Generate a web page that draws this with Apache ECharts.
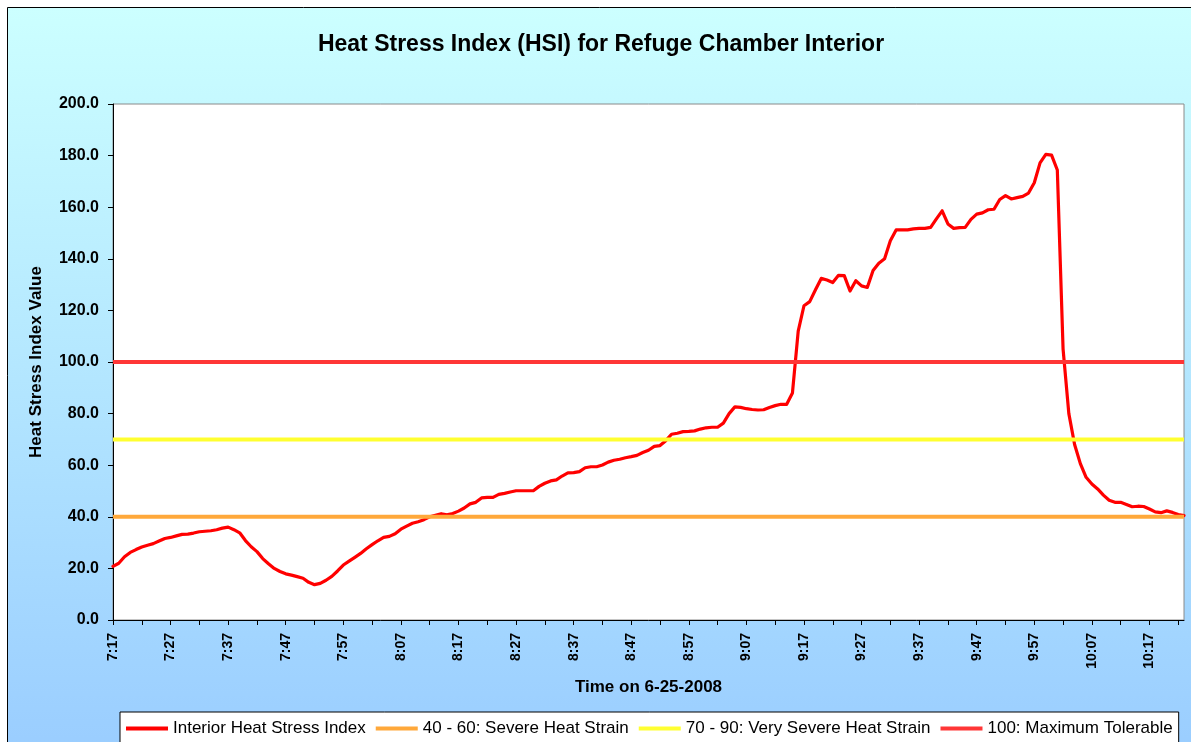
<!DOCTYPE html>
<html>
<head>
<meta charset="utf-8">
<script src="https://cdn.jsdelivr.net/npm/echarts@6/dist/echarts.min.js"></script>
<style>
html,body{margin:0;padding:0;background:#fff;}
#chart{width:1191px;height:742px;}
</style>
</head>
<body>
<div id="chart"></div>
<script>
// Time categories (one per minute)
const categories = [
"7:17","7:18","7:19","7:20","7:21","7:22","7:23","7:24","7:25","7:26","7:27","7:28","7:29","7:30","7:31","7:32","7:33","7:34","7:35","7:36","7:37","7:38","7:39","7:40","7:41","7:42","7:43","7:44","7:45","7:46","7:47","7:48","7:49","7:50","7:51","7:52","7:53","7:54","7:55","7:56","7:57","7:58","7:59",
"8:00","8:01","8:02","8:03","8:04","8:05","8:06","8:07","8:08","8:09","8:10","8:11","8:12","8:13","8:14","8:15","8:16","8:17","8:18","8:19","8:20","8:21","8:22","8:23","8:24","8:25","8:26","8:27","8:28","8:29","8:30","8:31","8:32","8:33","8:34","8:35","8:36","8:37","8:38","8:39","8:40","8:41","8:42","8:43","8:44","8:45","8:46","8:47","8:48","8:49","8:50","8:51","8:52","8:53","8:54","8:55","8:56","8:57","8:58","8:59",
"9:00","9:01","9:02","9:03","9:04","9:05","9:06","9:07","9:08","9:09","9:10","9:11","9:12","9:13","9:14","9:15","9:16","9:17","9:18","9:19","9:20","9:21","9:22","9:23","9:24","9:25","9:26","9:27","9:28","9:29","9:30","9:31","9:32","9:33","9:34","9:35","9:36","9:37","9:38","9:39","9:40","9:41","9:42","9:43","9:44","9:45","9:46","9:47","9:48","9:49","9:50","9:51","9:52","9:53","9:54","9:55","9:56","9:57","9:58","9:59",
"10:00","10:01","10:02","10:03","10:04","10:05","10:06","10:07","10:08","10:09","10:10","10:11","10:12","10:13","10:14","10:15","10:16","10:17","10:18","10:19","10:20","10:21","10:22","10:23"
];

// Interior Heat Stress Index
const hsiValues = [
20.8,22.0,24.5,26.2,27.3,28.3,29.0,29.6,30.6,31.6,
32.0,32.6,33.2,33.3,33.7,34.2,34.4,34.6,35.0,35.6,
36.0,35.0,33.8,30.8,28.4,26.5,23.8,21.8,20.0,18.8,
17.9,17.4,16.8,16.2,14.6,13.7,14.2,15.4,16.9,19.0,
21.3,22.8,24.3,25.8,27.6,29.2,30.7,32.0,32.4,33.4,
35.2,36.4,37.5,38.1,38.9,40.0,40.6,41.2,40.8,41.3,
42.2,43.4,45.0,45.6,47.3,47.5,47.5,48.7,49.1,49.6,
50.1,50.1,50.1,50.1,51.8,53.0,53.9,54.3,55.8,57.0,
57.1,57.5,59.0,59.4,59.4,60.1,61.2,61.9,62.3,62.9,
63.3,63.8,64.9,65.8,67.3,67.6,69.5,72.0,72.4,73.0,
73.1,73.3,74.0,74.5,74.7,74.7,76.3,80.0,82.6,82.4,
81.9,81.6,81.4,81.5,82.4,83.1,83.6,83.6,88.0,112.0,
121.8,123.4,128.0,132.4,131.8,130.8,133.6,133.5,127.5,131.5,
129.5,128.9,135.5,138.3,140.0,147.0,151.2,151.2,151.2,151.6,
151.8,151.8,152.2,155.5,158.6,153.5,151.8,152.1,152.2,155.3,
157.3,157.8,159.0,159.2,163.0,164.5,163.2,163.7,164.2,165.5,
169.5,177.2,180.5,180.2,174.4,105.0,80.0,68.0,60.6,55.3,
52.7,50.8,48.4,46.4,45.6,45.6,44.8,43.9,44.1,44.0,
43.0,41.9,41.6,42.3,41.7,40.9,40.5
];

// Threshold levels
const thresholdNames = ["40 - 60: Severe Heat Strain","70 - 90: Very Severe Heat Strain","100: Maximum Tolerable"];
const thresholdValues = [40, 70, 100];
const thresholdColors = ["#FFA83A", "#FFFF30", "#FF3636"];

const yTicks = [0,20,40,60,80,100,120,140,160,180,200];

const FONT = "'Liberation Sans', Arial, sans-serif";
const chart = echarts.init(document.getElementById('chart'), null, {renderer: 'canvas'});

const first = categories[0], last = categories[categories.length - 1];
const thresholdSeries = thresholdValues.map((v, i) => ({
  name: thresholdNames[i],
  type: 'line',
  data: [[first, v], [last, v]],
  symbol: 'none',
  color: thresholdColors[i],
  lineStyle: {color: thresholdColors[i], width: 4},
  z: 3,
  silent: true
}));

const option = {
  animation: false,
  graphic: [{
    type: 'rect',
    z: -10,
    shape: {x: 7.5, y: 7.5, width: 1200, height: 760},
    style: {
      fill: new echarts.graphic.LinearGradient(0, 0, 0, 1, [
        {offset: 0, color: '#CCFFFF'},
        {offset: 1, color: '#99CCFF'}
      ]),
      stroke: '#000', lineWidth: 1
    }
  }],
  title: {
    text: 'Heat Stress Index (HSI) for Refuge Chamber Interior',
    left: 601, top: 33, textAlign: 'center', padding: 0,
    textStyle: {fontFamily: FONT, fontSize: 23, fontWeight: 'bold', color: '#000'}
  },
  grid: {
    left: 113, top: 104, right: 7, bottom: 122,
    show: true, backgroundColor: '#fff', borderColor: '#8a8a8a', borderWidth: 1,
    containLabel: false
  },
  legend: {
    left: 120, top: 712,
    padding: [8, 6, 10, 6],
    itemGap: 10, itemWidth: 42, itemHeight: 4,
    icon: 'rect',
    backgroundColor: '#fff', borderColor: '#000', borderWidth: 1,
    textStyle: {fontFamily: FONT, fontSize: 17, color: '#000'},
    data: ['Interior Heat Stress Index'].concat(thresholdNames)
  },
  xAxis: {
    type: 'category',
    data: categories,
    boundaryGap: false,
    name: 'Time on 6-25-2008',
    nameLocation: 'middle',
    nameGap: 59,
    nameTextStyle: {fontFamily: FONT, fontSize: 17, fontWeight: 'bold', color: '#000', verticalAlign: 'top'},
    axisLine: {show: true, onZero: false, lineStyle: {color: '#000', width: 1}},
    axisTick: {show: true, inside: false, length: 5, lineStyle: {color: '#000'},
      interval: (idx) => idx % 5 === 0},
    axisLabel: {
      interval: (idx) => idx % 10 === 0,
      rotate: 90, margin: 13,
      fontFamily: FONT, fontSize: 14, fontWeight: 'bold', color: '#000'
    },
    splitLine: {show: false}
  },
  yAxis: {
    type: 'value',
    min: yTicks[0], max: yTicks[yTicks.length - 1], interval: 20,
    name: 'Heat Stress Index Value',
    nameLocation: 'middle',
    nameGap: 68,
    nameRotate: 90,
    nameTextStyle: {fontFamily: FONT, fontSize: 17, fontWeight: 'bold', color: '#000'},
    axisLine: {show: true, lineStyle: {color: '#000', width: 1}},
    axisTick: {show: true, inside: false, length: 5, lineStyle: {color: '#000'}},
    axisLabel: {
      margin: 14,
      formatter: (v) => v.toFixed(1),
      fontFamily: FONT, fontSize: 16, fontWeight: 'bold', color: '#000'
    },
    splitLine: {show: false}
  },
  series: [{
    name: 'Interior Heat Stress Index',
    type: 'line',
    data: hsiValues,
    symbol: 'none',
    color: '#FF0000',
    lineStyle: {color: '#FF0000', width: 3.2, join: 'round', cap: 'round'},
    z: 2,
    silent: true
  }].concat(thresholdSeries)
};
chart.setOption(option);
</script>
</body>
</html>
